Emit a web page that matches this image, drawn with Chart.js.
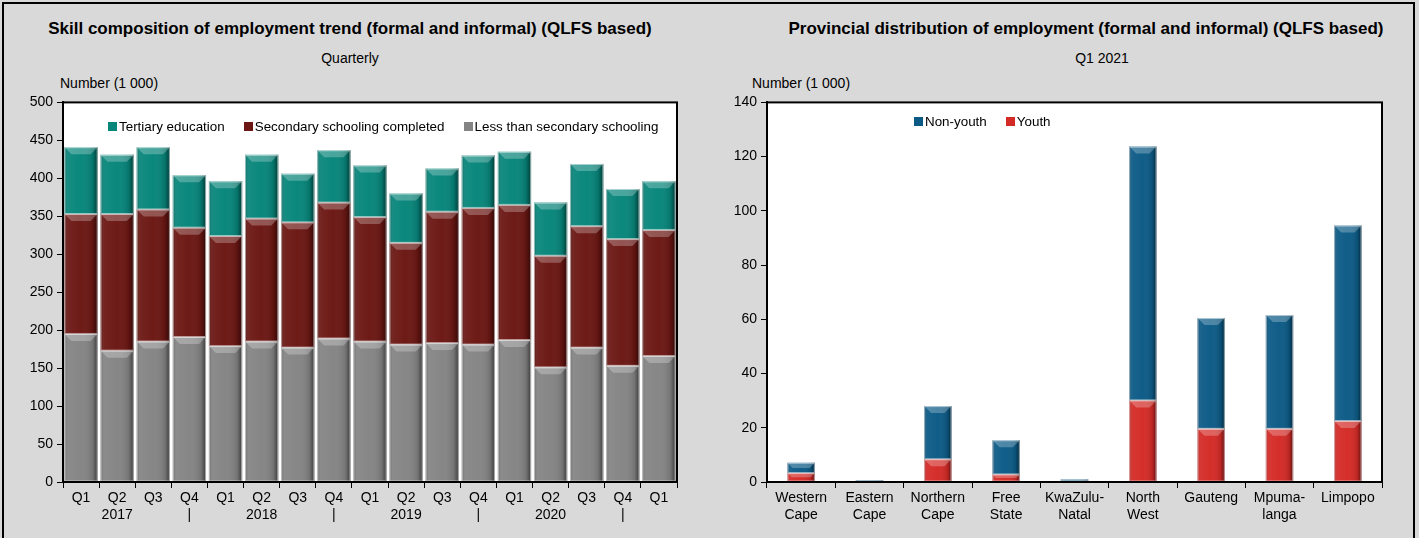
<!DOCTYPE html>
<html>
<head>
<meta charset="utf-8">
<script src="https://cdn.jsdelivr.net/npm/chart.js@4.4.1/dist/chart.umd.min.js"></script>
<style>
  html, body { margin: 0; padding: 0; }
  body { width: 1419px; height: 538px; background: #d9d9d9; position: relative; overflow: hidden;
         font-family: "Liberation Sans Narrow", "Arial Narrow", "Liberation Sans", Arial, sans-serif; color: #000; }
  .frame { position: absolute; left: 2px; top: 2px; width: 1413px; height: 540px; border: 2px solid #000; box-sizing: border-box; }
  .title { position: absolute; font-family: "Liberation Sans", Arial, sans-serif; font-weight: bold; font-size: 17px; white-space: nowrap; transform: translateX(-50%); }
  .sub { position: absolute; font-size: 14px; white-space: nowrap; transform: translateX(-50%); }
  .unit { position: absolute; font-size: 14px; white-space: nowrap; }
  .legend { position: absolute; display: flex; font-size: 13.4px; white-space: nowrap; align-items: center; }
  .legend span.item { display: flex; align-items: center; margin-right: 19px; }
  .legend i { display: inline-block; width: 9px; height: 9px; margin-right: 2px; }
  canvas { position: absolute; }
</style>
</head>
<body>
<div class="frame"></div>

<div class="title" style="left:350px; top:19px;">Skill composition of employment trend (formal and informal) (QLFS based)</div>
<div class="sub" style="left:350px; top:50px;">Quarterly</div>
<div class="unit" style="left:60px; top:75px;">Number (1 000)</div>
<canvas id="skills" width="710" height="448" style="left:0; top:90px;"></canvas>
<div class="legend" id="legSkills" style="left:108px; top:119px;"></div>

<div class="title" style="left:1086px; top:19px;">Provincial distribution of employment (formal and informal) (QLFS based)</div>
<div class="sub" style="left:1102px; top:50px;">Q1 2021</div>
<div class="unit" style="left:752px; top:75px;">Number (1 000)</div>
<canvas id="prov" width="709" height="448" style="left:710px; top:90px;"></canvas>
<div class="legend" id="legProv" style="left:914px; top:114px;"></div>

<script>
// quarterly skill composition, Q1 2017 - Q1 2021 (thousands)
const quarterLabels = [
  ['Q1', ''], ['Q2', '2017'], ['Q3', ''], ['Q4', '|'],
  ['Q1', ''], ['Q2', '2018'], ['Q3', ''], ['Q4', '|'],
  ['Q1', ''], ['Q2', '2019'], ['Q3', ''], ['Q4', '|'],
  ['Q1', ''], ['Q2', '2020'], ['Q3', ''], ['Q4', '|'],
  ['Q1', '']
];
const lessThanSecondary = [195, 173, 185, 191, 179, 185, 177, 189, 185, 181, 183, 181, 187, 151, 177, 153, 166];
const secondaryCompleted = [158, 180, 174, 144, 145, 162, 165, 179, 164, 134, 173, 180, 178, 147, 160, 167, 166];
const tertiary = [88, 78, 82, 69, 72, 84, 64, 69, 68, 65, 57, 69, 70, 70, 82, 66, 64];

// provinces, Q1 2021 (thousands)
const provinceLabels = [
  ['Western', 'Cape'], ['Eastern', 'Cape'], ['Northern', 'Cape'], ['Free', 'State'],
  ['KwaZulu-', 'Natal'], ['North', 'West'], 'Gauteng', ['Mpuma-', 'langa'], 'Limpopo'
];
const youth = [3.3, 0, 8.4, 2.8, 0, 30.1, 19.6, 19.6, 22.5];
const nonYouth = [3.8, 0.6, 19.6, 12.6, 1.0, 93.6, 40.9, 42.0, 72.1];

const TEAL = '#06857a', MAROON = '#6b1612', GREY = '#848484';
const BLUE = '#0b5a86', RED = '#d42a26';
const NARROW = '"Liberation Sans Narrow", "Arial Narrow", "Liberation Sans", Arial, sans-serif';

// white plot area + black box round it
const plotBox = {
  id: 'plotBox',
  beforeDraw(chart) {
    const { ctx, chartArea: a } = chart;
    ctx.save();
    ctx.fillStyle = '#fff';
    ctx.fillRect(a.left, a.top, a.right - a.left, a.bottom - a.top);
    ctx.restore();
  },
  afterDraw(chart) {
    const { ctx, chartArea: a } = chart;
    ctx.save();
    ctx.strokeStyle = '#000';
    ctx.lineWidth = 2;
    ctx.strokeRect(a.left, a.top, a.right - a.left, a.bottom - a.top);
    ctx.restore();
  }
};

// fake the excel bevel on each bar segment
const bevel = {
  id: 'bevel',
  afterDatasetsDraw(chart) {
    const ctx = chart.ctx;
    chart.data.datasets.forEach((ds, di) => {
      const meta = chart.getDatasetMeta(di);
      meta.data.forEach(el => {
        const p = el.getProps(['x', 'y', 'base', 'width'], true);
        const left = p.x - p.width / 2, top = Math.min(p.y, p.base), h = Math.abs(p.base - p.y);
        if (h < 1) return;
        ctx.save();
        const g = ctx.createLinearGradient(left, 0, left + p.width, 0);
        g.addColorStop(0, 'rgba(0,0,0,0.25)');
        g.addColorStop(0.12, 'rgba(255,255,255,0.06)');
        g.addColorStop(0.5, 'rgba(255,255,255,0.02)');
        g.addColorStop(0.85, 'rgba(0,0,0,0.12)');
        g.addColorStop(1, 'rgba(0,0,0,0.55)');
        ctx.fillStyle = g;
        ctx.fillRect(left, top, p.width, h);
        const s = Math.min(7, h / 2);
        ctx.fillStyle = 'rgba(255,255,255,0.25)';
        ctx.beginPath();
        ctx.moveTo(left, top);
        ctx.lineTo(left + p.width, top);
        ctx.lineTo(left + p.width - s, top + s);
        ctx.lineTo(left + s, top + s);
        ctx.closePath();
        ctx.fill();
        ctx.strokeStyle = 'rgba(255,255,255,0.55)';
        ctx.lineWidth = 1;
        ctx.strokeRect(left + 0.5, top + 0.5, p.width - 1, h - 1);
        ctx.restore();
      });
    });
  }
};

function axes(max, step, yWidth) {
  return {
    x: {
      stacked: true,
      grid: { display: true, drawOnChartArea: false, drawTicks: true, tickLength: 6, color: '#000', offset: true },
      border: { display: true, color: '#000', width: 2 },
      ticks: { color: '#000', font: { family: NARROW, size: 14 }, maxRotation: 0, autoSkip: false, padding: 2 },
      afterFit: s => { s.height = 56; }
    },
    y: {
      stacked: true, min: 0, max: max,
      grid: { display: true, drawOnChartArea: false, drawTicks: true, tickLength: 6, color: '#000' },
      border: { display: true, color: '#000', width: 2 },
      ticks: { stepSize: step, color: '#000', font: { family: NARROW, size: 14 }, padding: 4 },
      afterFit: s => { s.width = yWidth; }
    }
  };
}

new Chart(document.getElementById('skills'), {
  type: 'bar',
  data: {
    labels: quarterLabels,
    datasets: [
      { label: 'Less than secondary schooling', data: lessThanSecondary, backgroundColor: GREY },
      { label: 'Secondary schooling completed', data: secondaryCompleted, backgroundColor: MAROON },
      { label: 'Tertiary education', data: tertiary, backgroundColor: TEAL }
    ]
  },
  options: {
    responsive: false, animation: false,
    datasets: { bar: { barPercentage: 0.92, categoryPercentage: 1.0, borderWidth: 0 } },
    layout: { padding: { left: 0, right: 33, top: 11, bottom: 0 } },
    plugins: { legend: { display: false }, tooltip: { enabled: false } },
    scales: axes(500, 50, 63)
  },
  plugins: [plotBox, bevel]
});

new Chart(document.getElementById('prov'), {
  type: 'bar',
  data: {
    labels: provinceLabels,
    datasets: [
      { label: 'Youth', data: youth, backgroundColor: RED },
      { label: 'Non-youth', data: nonYouth, backgroundColor: BLUE }
    ]
  },
  options: {
    responsive: false, animation: false,
    datasets: { bar: { barPercentage: 0.4, categoryPercentage: 1.0, borderWidth: 0 } },
    layout: { padding: { left: 0, right: 37, top: 11, bottom: 0 } },
    plugins: { legend: { display: false }, tooltip: { enabled: false } },
    scales: axes(140, 20, 57)
  },
  plugins: [plotBox, bevel]
});

// legends (order as in the original: top series first)
function legend(id, items) {
  document.getElementById(id).innerHTML = items
    .map(([txt, col]) => `<span class="item"><i style="background:${col}"></i>${txt}</span>`).join('');
}
legend('legSkills', [['Tertiary education', TEAL], ['Secondary schooling completed', MAROON], ['Less than secondary schooling', GREY]]);
legend('legProv', [['Non-youth', BLUE], ['Youth', RED]]);
</script>
</body>
</html>
